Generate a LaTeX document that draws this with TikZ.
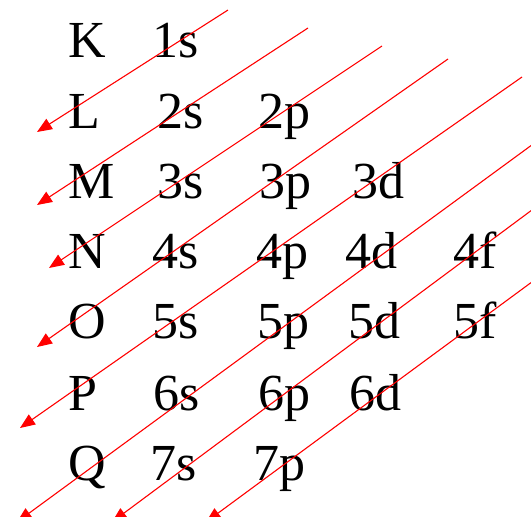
\documentclass[tikz,border=0pt]{standalone}
\usepackage{fontspec}
\setmainfont{Liberation Serif}
\usetikzlibrary{arrows.meta}
\begin{document}
\begin{tikzpicture}[x=1pt, y=-1pt,
    every node/.style={font=\fontsize{52}{52}\selectfont, anchor=base west, inner sep=0pt},
    diag/.style={red, line width=1.1pt, -{Triangle[length=15pt, width=12pt]}}]
  \useasboundingbox (0,0) rectangle (531,517);
  % shells
  \node (K) at (68,57) {K};
  \node (L) at (68,128) {L};
  \node (M) at (68,198) {M};
  \node (N) at (68,268) {N};
  \node (O) at (68,338) {O};
  \node (P) at (68,410) {P};
  \node (Q) at (68,480) {Q};
  % s
  \node (o1s) at (152,57) {1s};
  \node (o2s) at (157,128) {2s};
  \node (o3s) at (157,198) {3s};
  \node (o4s) at (152,268) {4s};
  \node (o5s) at (152,338) {5s};
  \node (o6s) at (153,410) {6s};
  \node (o7s) at (150,480) {7s};
  % p
  \node (o2p) at (258,128) {2p};
  \node (o3p) at (259,198) {3p};
  \node (o4p) at (256,268) {4p};
  \node (o5p) at (257,338) {5p};
  \node (o6p) at (258,410) {6p};
  \node (o7p) at (253,480) {7p};
  % d
  \node (o3d) at (352,198) {3d};
  \node (o4d) at (345,268) {4d};
  \node (o5d) at (348,338) {5d};
  \node (o6d) at (349,410) {6d};
  % f
  \node (o4f) at (453,268) {4f};
  \node (o5f) at (453,338) {5f};
  % filling order
  \draw[diag] (228,10) -- (37,132);
  \draw[diag] (308,28) -- (37,205);
  \draw[diag] (382,46) -- (49,268);
  \draw[diag] (448,59) -- (37,347);
  \draw[diag] (522,77) -- (20,428);
  \draw[diag] (540,139) -- (17,522);
  \draw[diag] (540,204) -- (112,522);
  \draw[diag] (540,276) -- (206,522);
\end{tikzpicture}
\end{document}
